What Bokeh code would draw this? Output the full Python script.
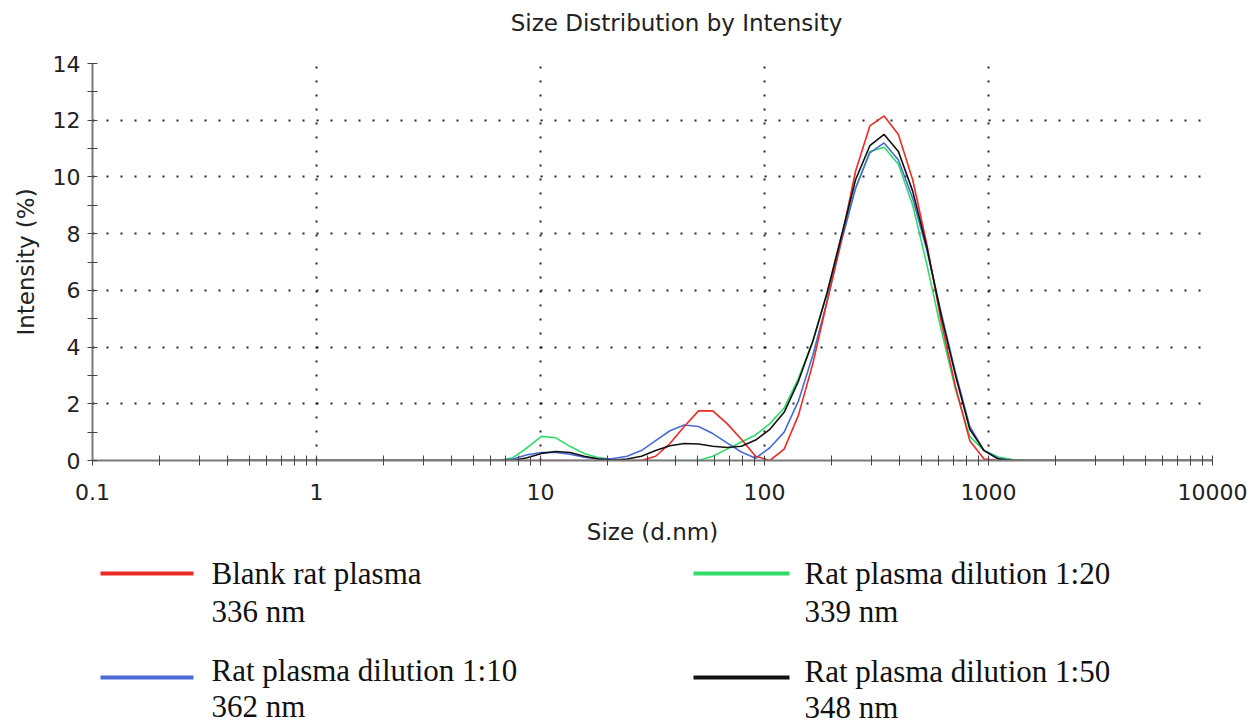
from bokeh.plotting import figure
from bokeh.models import Range1d, FixedTicker, CustomJSTickFormatter, ColumnDataSource
from bokeh.layouts import column
from bokeh.embed import file_html
from bokeh.resources import INLINE
from bokeh.core.properties import value

# ---------------- data ----------------
sizes = [0.4, 0.4632, 0.5365, 0.6213, 0.7195, 0.8332, 0.9649, 1.117, 1.294, 1.499,
         1.736, 2.010, 2.328, 2.696, 3.122, 3.615, 4.187, 4.849, 5.615, 6.503,
         7.531, 8.721, 10.10, 11.70, 13.54, 15.69, 18.17, 21.04, 24.36, 28.21,
         32.67, 37.84, 43.82, 50.75, 58.77, 68.06, 78.82, 91.28, 105.7, 122.4,
         141.8, 164.2, 190.1, 220.2, 255.0, 295.3, 342.0, 396.1, 458.7, 531.2,
         615.1, 712.4, 825.0, 955.4, 1106, 1281, 1484, 1718, 1990, 2305,
         2669, 3091, 3580, 4145, 4801, 5560, 6439, 7456, 8635, 10000]

blank = [0, 0, 0, 0, 0, 0, 0, 0, 0, 0,
         0, 0, 0, 0, 0, 0, 0, 0, 0, 0,
         0, 0, 0, 0, 0, 0, 0, 0, 0, 0,
         0.15, 0.6, 1.2, 1.75, 1.75, 1.3, 0.75, 0.15, 0.0, 0.4,
         1.6, 3.4, 5.6, 7.8, 10.2, 11.8, 12.15, 11.5, 9.9, 7.6,
         4.9, 2.6, 0.7, 0.05, 0, 0, 0, 0, 0, 0,
         0, 0, 0, 0, 0, 0, 0, 0, 0, 0]

dil10 = [0, 0, 0, 0, 0, 0, 0, 0, 0, 0,
         0, 0, 0, 0, 0, 0, 0, 0, 0, 0,
         0.05, 0.2, 0.28, 0.28, 0.22, 0.12, 0.05, 0.07, 0.15, 0.35,
         0.7, 1.05, 1.25, 1.2, 0.95, 0.62, 0.3, 0.08, 0.45, 1.0,
         2.1, 3.7, 5.6, 7.7, 9.6, 10.85, 11.2, 10.6, 9.25, 7.4,
         5.2, 3.1, 1.2, 0.35, 0.08, 0, 0, 0, 0, 0,
         0, 0, 0, 0, 0, 0, 0, 0, 0, 0]

dil20 = [0, 0, 0, 0, 0, 0, 0, 0, 0, 0,
         0, 0, 0, 0, 0, 0, 0, 0, 0, 0,
         0.1, 0.45, 0.85, 0.8, 0.5, 0.25, 0.1, 0.03, 0, 0,
         0, 0, 0, 0, 0.15, 0.4, 0.65, 0.9, 1.3, 1.85,
         2.9, 4.2, 5.9, 7.9, 9.6, 10.9, 11.05, 10.45, 9.0, 6.9,
         4.6, 2.5, 0.85, 0.35, 0.12, 0.03, 0, 0, 0, 0,
         0, 0, 0, 0, 0, 0, 0, 0, 0, 0]

dil50 = [0, 0, 0, 0, 0, 0, 0, 0, 0, 0,
         0, 0, 0, 0, 0, 0, 0, 0, 0, 0,
         0, 0.1, 0.25, 0.32, 0.28, 0.15, 0.05, 0.02, 0.05, 0.15,
         0.35, 0.52, 0.6, 0.58, 0.5, 0.46, 0.5, 0.72, 1.1, 1.7,
         2.8, 4.2, 5.9, 7.9, 9.9, 11.1, 11.5, 10.9, 9.5, 7.5,
         5.1, 3.0, 1.1, 0.35, 0.05, 0, 0, 0, 0, 0,
         0, 0, 0, 0, 0, 0, 0, 0, 0, 0]

series_names = ["Blank rat plasma", "Rat plasma dilution 1:10",
                "Rat plasma dilution 1:20", "Rat plasma dilution 1:50"]
series_peaks = ["336 nm", "362 nm", "339 nm", "348 nm"]
series_colors = ["#ee2a24", "#4a6ad8", "#2fdc6a", "#111111"]

x_major = [0.1, 1, 10, 100, 1000, 10000]
x_minor = [m * d for d in [0.1, 1, 10, 100, 1000] for m in range(2, 10)]
y_major = [0, 2, 4, 6, 8, 10, 12, 14]
y_minor = [1, 3, 5, 7, 9, 11, 13]

title_text = "Size Distribution by Intensity"
x_label = "Size (d.nm)"
y_label = "Intensity (%)"

W = 1254
TH = 40          # title strip height
MH = 553 - TH    # main chart height
LH = 724 - 553   # legend strip height


def strip(height):
    f = figure(width=W, height=height, x_range=Range1d(92, 1212), y_range=Range1d(height, 0),
               output_backend="svg", toolbar_location=None,
               x_axis_location=None, y_axis_location=None,
               min_border=0, min_border_left=92, min_border_right=42,
               min_border_top=0, min_border_bottom=0)
    f.outline_line_color = None
    f.xgrid.visible = False
    f.ygrid.visible = False
    return f


# ---------------- title strip ----------------
top = strip(TH)
top.text(x=[676], y=[22], text=[title_text], text_font=value("DejaVu Sans"),
         text_font_size="23px", text_align="center", text_baseline="middle",
         text_color="#222222")

# ---------------- main chart ----------------
p = figure(width=W, height=MH, x_axis_type="log",
           x_range=Range1d(0.1, 10000), y_range=Range1d(0, 14),
           output_backend="svg", toolbar_location=None,
           min_border_left=92, min_border_right=42,
           min_border_top=63 - TH, min_border_bottom=93)
p.outline_line_color = None
p.background_fill_color = "white"
p.border_fill_color = "white"

# grid
p.xgrid.ticker = FixedTicker(ticks=x_major)
p.ygrid.ticker = FixedTicker(ticks=y_major[1:])
for g in (p.xgrid, p.ygrid):
    g.grid_line_color = "#111111"
    g.grid_line_width = 2
    g.grid_line_dash = "2 12"
    g.grid_line_alpha = 0.9

# axes
xa = p.xaxis[0]
xa.ticker = FixedTicker(ticks=x_major, minor_ticks=x_minor)
xa.formatter = CustomJSTickFormatter(code="return tick.toString();")
ya = p.yaxis[0]
ya.ticker = FixedTicker(ticks=y_major, minor_ticks=y_minor)
xa.axis_label = x_label
ya.axis_label = y_label
for ax in (xa, ya):
    ax.axis_line_color = "#7a7a7a"
    ax.axis_line_width = 2
    ax.major_tick_line_color = "#444444"
    ax.minor_tick_line_color = "#444444"
    ax.major_tick_line_width = 1
    ax.minor_tick_line_width = 1
    ax.major_tick_in = 5
    ax.major_tick_out = 5
    ax.minor_tick_in = 5
    ax.minor_tick_out = 5
    ax.major_label_text_font = "DejaVu Sans"
    ax.major_label_text_font_size = "22px"
    ax.major_label_text_color = "#222222"
    ax.axis_label_text_font = "DejaVu Sans"
    ax.axis_label_text_font_size = "23px"
    ax.axis_label_text_font_style = "normal"
    ax.axis_label_text_color = "#222222"
xa.major_label_standoff = 18
xa.axis_label_standoff = 16
ya.major_label_standoff = 7
ya.axis_label_standoff = 11

src = ColumnDataSource(dict(size=sizes, blank=blank, dil10=dil10, dil20=dil20, dil50=dil50))
for col, c in [("dil20", series_colors[2]), ("dil10", series_colors[1]),
               ("blank", series_colors[0]), ("dil50", series_colors[3])]:
    p.line("size", col, source=src, line_color=c, line_width=1.6)

# ---------------- legend strip ----------------
leg = strip(LH)

# layout positions for the four legend entries (pixels)
lx0 = [100, 100, 693, 693]
lx1 = [193, 193, 789, 789]
ly = [20, 124, 20, 124]
tx = [211, 211, 804, 804]
ty1 = [20, 117, 20, 118]
ty2 = [58, 153, 58, 154]

lsrc = ColumnDataSource(dict(x0=lx0, x1=lx1, y=ly, color=series_colors,
                             tx=tx, ty1=ty1, ty2=ty2,
                             name=series_names, peak=series_peaks))
leg.segment(x0="x0", y0="y", x1="x1", y1="y", line_color="color",
            line_width=4, source=lsrc)
leg.text(x="tx", y="ty1", text="name", source=lsrc,
         text_font=value("Liberation Serif"), text_font_size="31px",
         text_baseline="alphabetic", text_color="#111111")
leg.text(x="tx", y="ty2", text="peak", source=lsrc,
         text_font=value("Liberation Serif"), text_font_size="31px",
         text_baseline="alphabetic", text_color="#111111")

layout = column(top, p, leg, spacing=0)
open("out.html", "w").write(file_html(layout, INLINE))
